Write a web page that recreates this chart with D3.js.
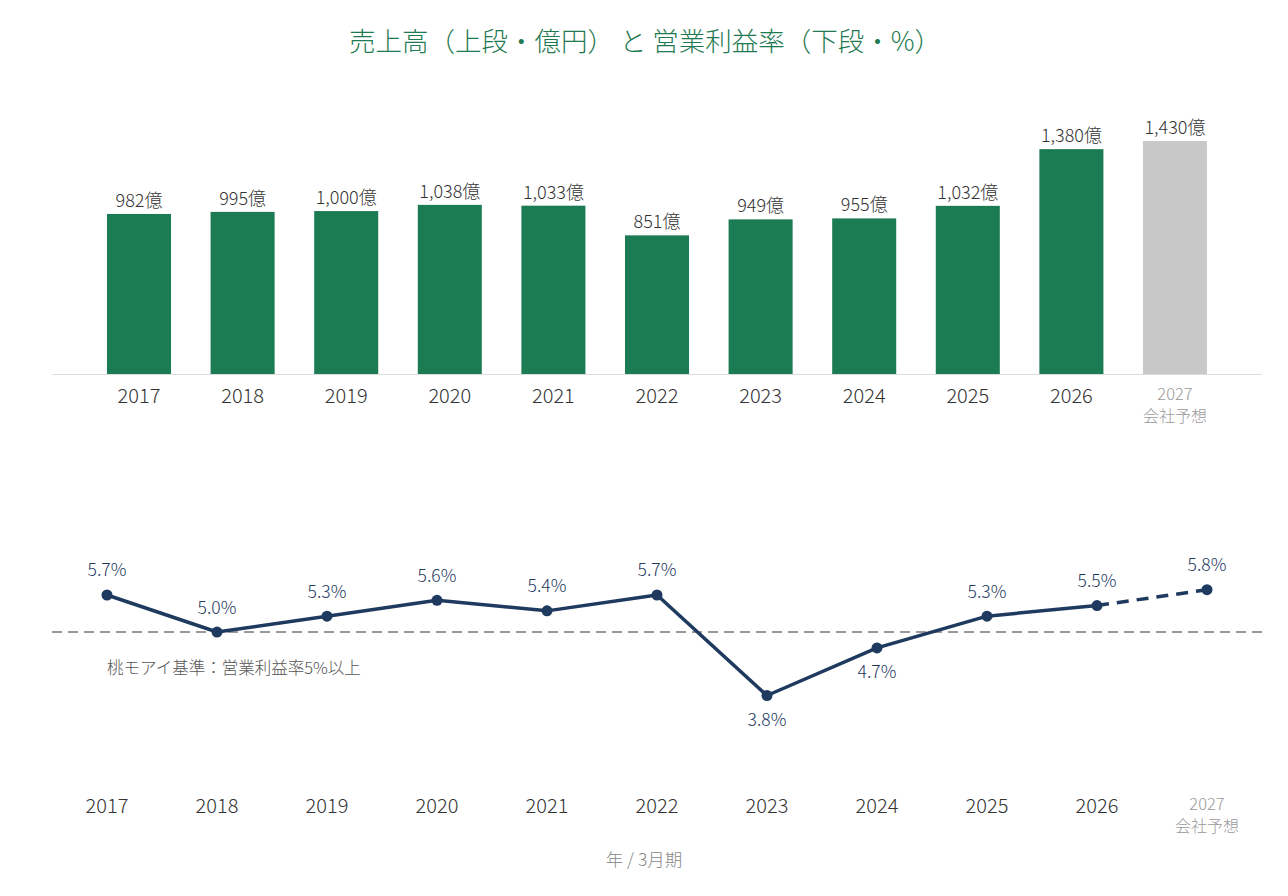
<!DOCTYPE html>
<html><head><meta charset="utf-8">
<script src="https://cdn.jsdelivr.net/npm/d3@7"></script>
<style>
body{margin:0;background:#fff;}
text{font-family:"Noto Sans CJK JP","Noto Sans",sans-serif;font-weight:300;}
</style></head>
<body><svg id="c" width="1288" height="896"></svg>
<script>
const years = ["2017","2018","2019","2020","2021","2022","2023","2024","2025","2026","2027"];
const sales = [982,995,1000,1038,1033,851,949,955,1032,1380,1430];
const margin = [5.7,5.0,5.3,5.6,5.4,5.7,3.8,4.7,5.3,5.5,5.8];
const forecastLabel = "会社予想";
const threshold = 5.0;
const belowLabelYears = ["2023","2024"];

const svg = d3.select("#c");
const green = "#1b7c54", grey = "#c8c8c8", navy = "#1f3a5f";

svg.append("text").attr("x",645).attr("y",51).attr("text-anchor","middle")
  .attr("font-size",26.5).attr("fill","#1f7a52")
  .text("売上高（上段・億円） と 営業利益率（下段・%）");

// ---- Bars
const xb = d3.scaleBand().domain(years).range([87.2,1226.8]).paddingInner(0.382).paddingOuter(0.191);
const yb = d3.scaleLinear().domain([0,1430]).range([374,141]);
const last = years[years.length-1];

svg.append("g").selectAll("rect").data(years).join("rect")
  .attr("x",d=>xb(d)).attr("width",xb.bandwidth())
  .attr("y",(d,i)=>yb(sales[i])).attr("height",(d,i)=>yb(0)-yb(sales[i]))
  .attr("fill",d=>d===last?grey:green);

svg.append("line").attr("x1",52).attr("x2",1262).attr("y1",yb(0)+0.5).attr("y2",yb(0)+0.5)
  .attr("stroke","#dddddd").attr("stroke-width",1);

svg.append("g").selectAll("text").data(years).join("text")
  .attr("x",d=>xb(d)+xb.bandwidth()/2).attr("y",(d,i)=>yb(sales[i])-7)
  .attr("text-anchor","middle").attr("font-size",18).attr("fill","#333")
  .text((d,i)=>d3.format(",")(sales[i])+"億");

const xbAxis = svg.append("g").selectAll("g").data(years).join("g")
  .attr("transform",d=>`translate(${xb(d)+xb.bandwidth()/2},0)`);
xbAxis.append("text").attr("y",d=>d===last?400:403).attr("text-anchor","middle")
  .attr("font-size",d=>d===last?16.5:20).attr("fill",d=>d===last?"#999":"#333").text(d=>d);
xbAxis.filter(d=>d===last).append("text").attr("y",422).attr("text-anchor","middle")
  .attr("font-size",16).attr("fill","#999").text(forecastLabel);

// ---- Line
const xl = d3.scalePoint().domain(years).range([107,1207]);
const yl = d3.scaleLinear().domain([3.8,5.8]).range([695.5,589.7]);

svg.append("line").attr("x1",52).attr("x2",1262).attr("y1",yl(threshold)).attr("y2",yl(threshold))
  .attr("stroke","#9a9a9a").attr("stroke-width",2).attr("stroke-dasharray","10,6");

svg.append("text").attr("x",107).attr("y",674).attr("font-size",16.5).attr("fill","#555")
  .text("桃モアイ基準：営業利益率5%以上");

const pts = years.map((d,i)=>[xl(d),yl(margin[i])]);
const line = d3.line();
svg.append("path").attr("d",line(pts.slice(0,10))).attr("fill","none")
  .attr("stroke",navy).attr("stroke-width",3.5).attr("stroke-linejoin","round");
svg.append("path").attr("d",line(pts.slice(9))).attr("fill","none")
  .attr("stroke",navy).attr("stroke-width",3.5).attr("stroke-dasharray","12,8");

svg.append("g").selectAll("circle").data(years).join("circle")
  .attr("cx",d=>xl(d)).attr("cy",(d,i)=>yl(margin[i])).attr("r",5.5).attr("fill",navy);

svg.append("g").selectAll("text").data(years).join("text")
  .attr("x",d=>xl(d)).attr("y",(d,i)=>belowLabelYears.includes(d)?yl(margin[i])+30:yl(margin[i])-18.5)
  .attr("text-anchor","middle").attr("font-size",17.5).attr("fill",navy)
  .text((d,i)=>margin[i].toFixed(1)+"%");

const xlAxis = svg.append("g").selectAll("g").data(years).join("g")
  .attr("transform",d=>`translate(${xl(d)},0)`);
xlAxis.append("text").attr("y",d=>d===last?810:813).attr("text-anchor","middle")
  .attr("font-size",d=>d===last?16.5:20).attr("fill",d=>d===last?"#999":"#333").text(d=>d);
xlAxis.filter(d=>d===last).append("text").attr("y",832).attr("text-anchor","middle")
  .attr("font-size",16).attr("fill","#999").text(forecastLabel);

svg.append("text").attr("x",644).attr("y",866).attr("text-anchor","middle")
  .attr("font-size",17.5).attr("fill","#888").text("年 / 3月期");
</script></body></html>
